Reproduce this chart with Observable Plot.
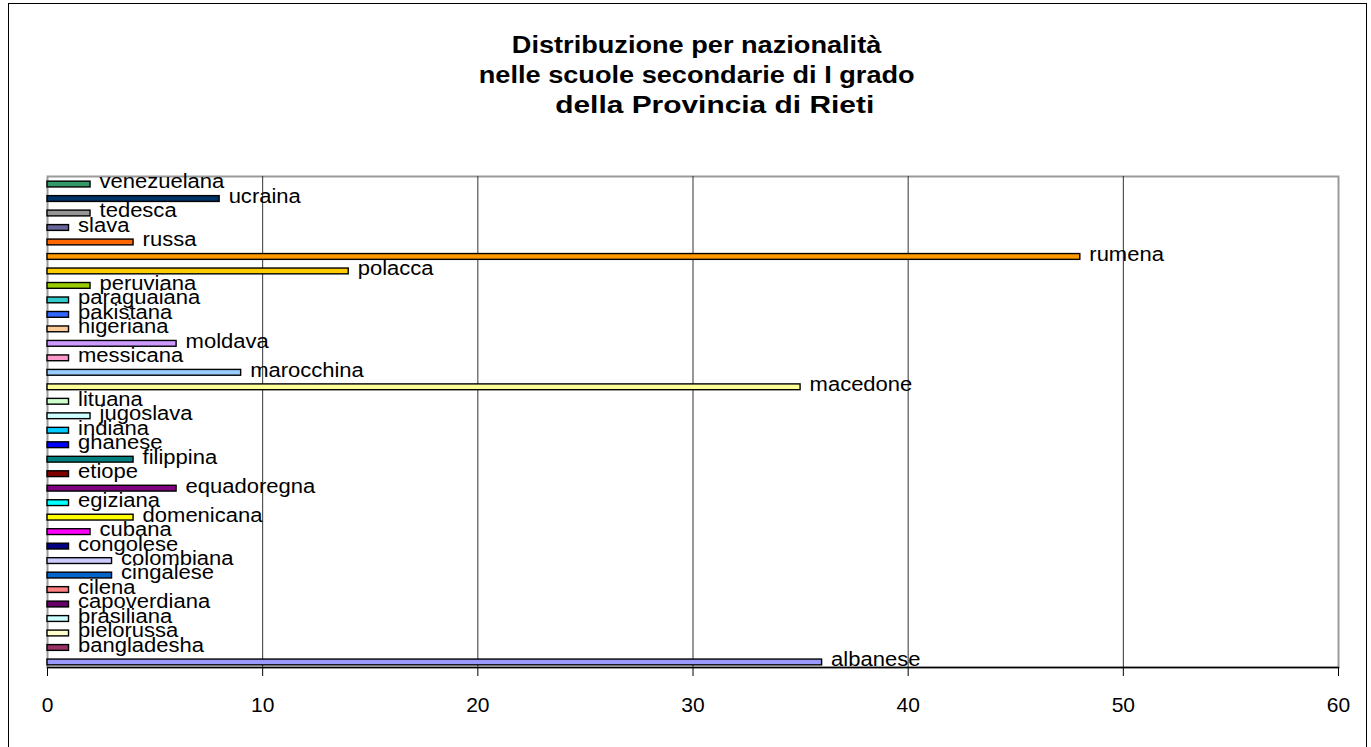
<!DOCTYPE html>
<html>
<head>
<meta charset="utf-8">
<script src="https://cdn.jsdelivr.net/npm/d3@7"></script>
<script src="https://cdn.jsdelivr.net/npm/@observablehq/plot@0.6"></script>
<style>
  html, body { margin: 0; padding: 0; background: #fff; }
  body { font-family: "Liberation Sans", Arial, sans-serif; }
  #wrap { position: relative; width: 1371px; height: 747px; overflow: hidden; background: #fff; }
  #border { position: absolute; left: 8px; top: 3px; width: 1359px; height: 770px; border: 1px solid #000; box-sizing: border-box; }
  #title { position: absolute; left: 0; top: 30px; width: 1394px; text-align: center; font-weight: bold; font-size: 23px; line-height: 30px; color: #000; }
  #title span { display: inline-block; transform: scaleX(1.18); transform-origin: center; white-space: pre; }
  #title div.l3 span { transform: translateX(18px) scaleX(1.3); }
  #chart { position: absolute; left: 0; top: 160px; }
</style>
</head>
<body>
<div id="wrap">
  <div id="border"></div>
  <div id="title"></div>
  <div id="chart"></div>
</div>
<script>
// Categories, bottom to top (alphabetical as in the source)
const categories = ["albanese","bangladesha","bielorussa","brasiliana","capoverdiana","cilena","cingalese","colombiana","congolese","cubana","domenicana","egiziana","equadoregna","etiope","filippina","ghanese","indiana","jugoslava","lituana","macedone","marocchina","messicana","moldava","nigeriana","pakistana","paraguaiana","peruviana","polacca","rumena","russa","slava","tedesca","ucraina","venezuelana"];
const values = [36,1,1,1,1,1,3,3,1,2,4,1,6,1,4,1,1,2,1,35,9,1,6,1,1,1,2,14,48,4,1,2,8,2];
const colors = ["#9999FF","#993366","#FFFFCC","#CCFFFF","#660066","#FF8080","#0066CC","#CCCCFF","#000080","#FF00FF","#FFFF00","#00FFFF","#800080","#800000","#008080","#0000FF","#00CCFF","#CCFFFF","#CCFFCC","#FFFF99","#99CCFF","#FF99CC","#CC99FF","#FFCC99","#3366FF","#33CCCC","#99CC00","#FFCC00","#FF9900","#FF6600","#666699","#969696","#003366","#339966"];
const xTicks = [0,10,20,30,40,50,60];
const gridTicks = [10,20,30,40,50];
const titleLines = ["Distribuzione per nazionalità","nelle scuole secondarie di I grado","della Provincia di Rieti"];

const data = categories.map((name, i) => ({name, value: values[i], color: colors[i]}));

const title = document.getElementById("title");
titleLines.forEach((t, i) => {
  const d = document.createElement("div");
  d.className = "l" + (i + 1);
  const s = document.createElement("span");
  s.textContent = t;
  d.appendChild(s);
  title.appendChild(d);
});

const font = '"Liberation Sans", Arial, sans-serif';

const chart = Plot.plot({
  width: 1371,
  height: 587,
  marginLeft: 47,
  marginRight: 33,
  marginTop: 16,
  marginBottom: 80,
  style: {fontFamily: font, fontSize: "21px", color: "#000", background: "transparent", overflow: "visible"},
  x: {domain: [0, 60], ticks: xTicks, label: null},
  y: {domain: categories.slice().reverse(), range: [16.8, 509.2], paddingInner: 0.6, paddingOuter: 0.3, round: false, axis: null},
  color: {type: "identity"},
  marks: [
    Plot.frame({stroke: "#9a9a9a", strokeWidth: 2}),
    Plot.gridX(gridTicks, {stroke: "#333", strokeOpacity: 1, strokeWidth: 1}),
    Plot.barX(data, {x: "value", y: "name", fill: "color", stroke: "#000", strokeWidth: 1.4}),
    Plot.frame({anchor: "bottom", stroke: "#000", strokeWidth: 1.3}),
    Plot.axisX({ticks: xTicks, tickSize: 9, tickPadding: 21, fontSize: 21, label: null, stroke: "#000"}),
    Plot.text(data, {x: "value", y: "name", text: "name", dx: 9, dy: -2.5, textAnchor: "start", fontSize: 20, fill: "#000", fontFamily: font})
  ]
});
document.getElementById("chart").appendChild(chart);

// Slight horizontal stretch of bar labels to match the source rendering
chart.querySelectorAll('g[aria-label="text"] text').forEach(el => {
  const len = el.getComputedTextLength();
  el.setAttribute("textLength", (len * 1.1).toFixed(1));
  el.setAttribute("lengthAdjust", "spacingAndGlyphs");
});
</script>
</body>
</html>
